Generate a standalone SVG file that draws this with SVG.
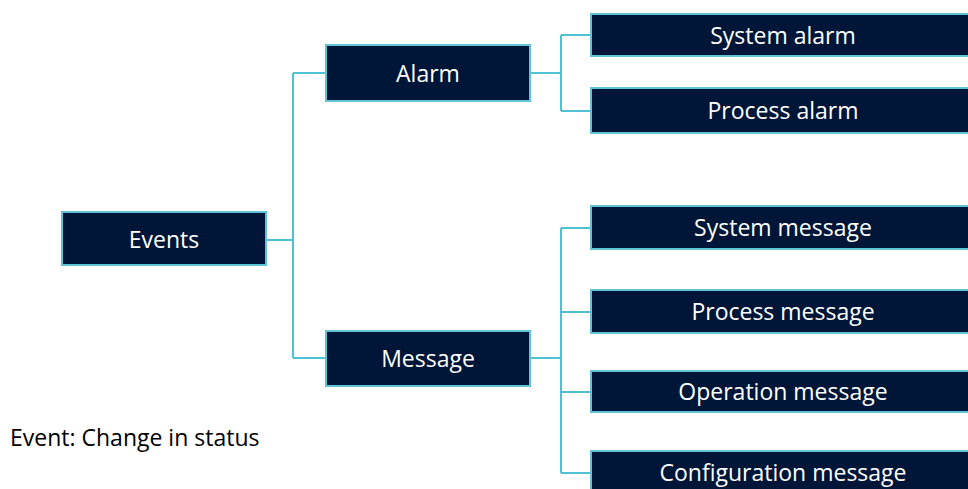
<svg xmlns="http://www.w3.org/2000/svg" width="968" height="489" viewBox="0 0 968 489">
<style>
.box{fill:#001638;stroke:#5ec4d6;stroke-width:2}
.lbl{fill:#ffffff;font-family:"Open Sans","Noto Sans",sans-serif;font-size:23px;text-anchor:middle;dominant-baseline:central}
.con{fill:none;stroke:#4fc1d4;stroke-width:2}
.note{fill:#000000;font-family:"Open Sans","Noto Sans",sans-serif;font-size:23px}
</style>
<rect width="968" height="489" fill="#ffffff"/>
<g id="connectors">
<path class="con" d="M266 240 H293 M293 73 V358 M293 73 H326 M293 358 H326"/>
<path class="con" d="M530 73 H561 M561 35 V111 M561 35 H591 M561 111 H591"/>
<path class="con" d="M530 358 H561 M561 228 V473 M561 228 H591 M561 312 H591 M561 392 H591 M561 473 H591"/>
</g>
<g id="events"><rect class="box" x="62" y="212" width="204" height="53"/><text class="lbl" x="164" y="239">Events</text></g>
<g id="alarm"><rect class="box" x="326" y="45" width="204" height="56"/><text class="lbl" x="428" y="73">Alarm</text></g>
<g id="message"><rect class="box" x="326" y="331" width="204" height="55"/><text class="lbl" x="428" y="358">Message</text></g>
<g id="system-alarm"><rect class="box" x="591" y="14" width="384" height="42"/><text class="lbl" x="783" y="35">System alarm</text></g>
<g id="process-alarm"><rect class="box" x="591" y="88" width="384" height="45"/><text class="lbl" x="783" y="110">Process alarm</text></g>
<g id="system-message"><rect class="box" x="591" y="206" width="384" height="43"/><text class="lbl" x="783" y="227">System message</text></g>
<g id="process-message"><rect class="box" x="591" y="290" width="384" height="43"/><text class="lbl" x="783" y="311">Process message</text></g>
<g id="operation-message"><rect class="box" x="591" y="371" width="384" height="41"/><text class="lbl" x="783" y="391">Operation message</text></g>
<g id="configuration-message"><rect class="box" x="591" y="451" width="384" height="48"/><text class="lbl" x="783" y="472">Configuration message</text></g>
<text class="note" x="10" y="446">Event: Change in status</text>
</svg>
